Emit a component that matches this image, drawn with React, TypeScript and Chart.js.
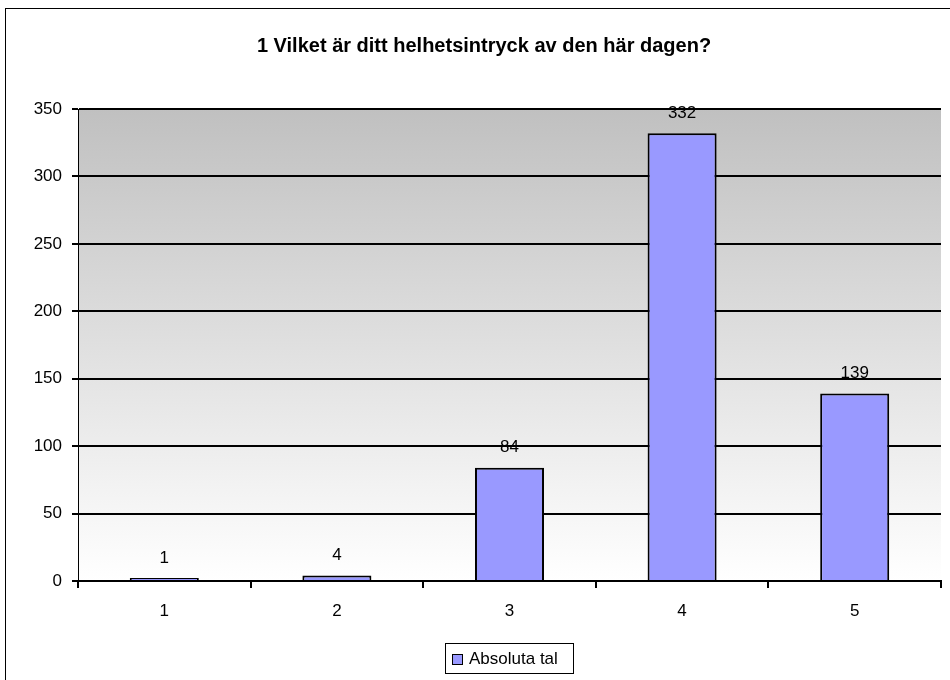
import React, { useEffect, useRef } from "react";
import { Chart, registerables } from "chart.js";

Chart.register(...registerables);

const titleText = "1 Vilket är ditt helhetsintryck av den här dagen?";
const categories = ["1", "2", "3", "4", "5"];
const seriesName = "Absoluta tal";
const values = [1, 4, 84, 332, 139];
const yTicks = [0, 50, 100, 150, 200, 250, 300, 350];

const FONT = "'Liberation Sans', Arial, sans-serif";

const decorPlugin = {
  id: "decor",
  beforeDraw(chart: any) {
    const { ctx, chartArea } = chart;
    ctx.save();
    ctx.fillStyle = "#ffffff";
    ctx.fillRect(0, 0, chart.width, chart.height);
    const g = ctx.createLinearGradient(0, chartArea.top, 0, chartArea.bottom);
    g.addColorStop(0, "#c0c0c0");
    g.addColorStop(1, "#ffffff");
    ctx.fillStyle = g;
    ctx.fillRect(chartArea.left, chartArea.top, chartArea.right - chartArea.left, chartArea.bottom - chartArea.top);
    // outer frame
    ctx.strokeStyle = "#000";
    ctx.lineWidth = 1;
    ctx.strokeRect(5.5, 8.5, chart.width, chart.height);
    // title
    ctx.fillStyle = "#000";
    ctx.font = `bold 20px ${FONT}`;
    ctx.textAlign = "center";
    ctx.textBaseline = "middle";
    ctx.fillText(titleText, 484, 46);
    ctx.restore();
  },
  afterDraw(chart: any) {
    const { ctx } = chart;
    ctx.save();
    // data labels
    const meta = chart.getDatasetMeta(0);
    ctx.fillStyle = "#000";
    ctx.font = `17px ${FONT}`;
    ctx.textAlign = "center";
    ctx.textBaseline = "middle";
    meta.data.forEach((bar: any, i: number) => {
      const top = Math.min(bar.y, bar.base);
      ctx.fillText(String(values[i]), bar.x, top - 20);
    });
    // legend
    ctx.strokeStyle = "#000";
    ctx.lineWidth = 1;
    ctx.fillStyle = "#fff";
    ctx.fillRect(445.5, 643.5, 128, 30);
    ctx.strokeRect(445.5, 643.5, 128, 30);
    ctx.fillStyle = "#9999ff";
    ctx.fillRect(452.5, 654.5, 10, 10);
    ctx.strokeRect(452.5, 654.5, 10, 10);
    ctx.fillStyle = "#000";
    ctx.textAlign = "left";
    ctx.textBaseline = "middle";
    ctx.font = `17px ${FONT}`;
    ctx.fillText(seriesName, 469, 659);
    ctx.restore();
  },
};

export default function App() {
  const ref = useRef<HTMLCanvasElement>(null);
  useEffect(() => {
    if (!ref.current) return;
    const chart = new Chart(ref.current, {
      type: "bar",
      data: {
        labels: categories,
        datasets: [
          {
            label: seriesName,
            data: values,
            backgroundColor: "#9999ff",
            borderColor: "#000000",
            borderWidth: 2,
            minBarLength: 3,
            categoryPercentage: 1,
            barPercentage: 0.4,
          },
        ],
      },
      options: {
        animation: false,
        responsive: false,
        maintainAspectRatio: false,
        devicePixelRatio: 1,
        layout: { padding: { left: 0, top: 109, right: 9, bottom: 0 } },
        plugins: {
          legend: { display: false },
          title: { display: false },
          tooltip: { enabled: false },
        },
        scales: {
          x: {
            afterFit: (s: any) => {
              s.height = 99;
            },
            grid: {
              display: true,
              offset: true,
              drawOnChartArea: false,
              drawTicks: true,
              tickLength: 7,
              color: "#000",
              lineWidth: 2,
            },
            border: { display: true, color: "#000", width: 2 },
            ticks: {
              color: "#000",
              font: { family: FONT, size: 17 },
              padding: 13,
            },
          },
          y: {
            min: 0,
            max: 350,
            afterFit: (s: any) => {
              s.width = 78;
            },
            afterBuildTicks: (s: any) => {
              s.ticks = yTicks.map((v) => ({ value: v }));
            },
            grid: {
              color: "#000",
              lineWidth: 2,
              tickLength: 6,
            },
            border: { display: true, color: "#000", width: 1 },
            ticks: {
              color: "#000",
              font: { family: FONT, size: 17 },
              padding: 10,
            },
          },
        },
      },
      plugins: [decorPlugin],
    });
    return () => chart.destroy();
  }, []);
  return (
    <div style={{ position: "fixed", left: 0, top: 0, width: 950, height: 680 }}>
      <canvas ref={ref} width={950} height={680} style={{ width: 950, height: 680 }} />
    </div>
  );
}
